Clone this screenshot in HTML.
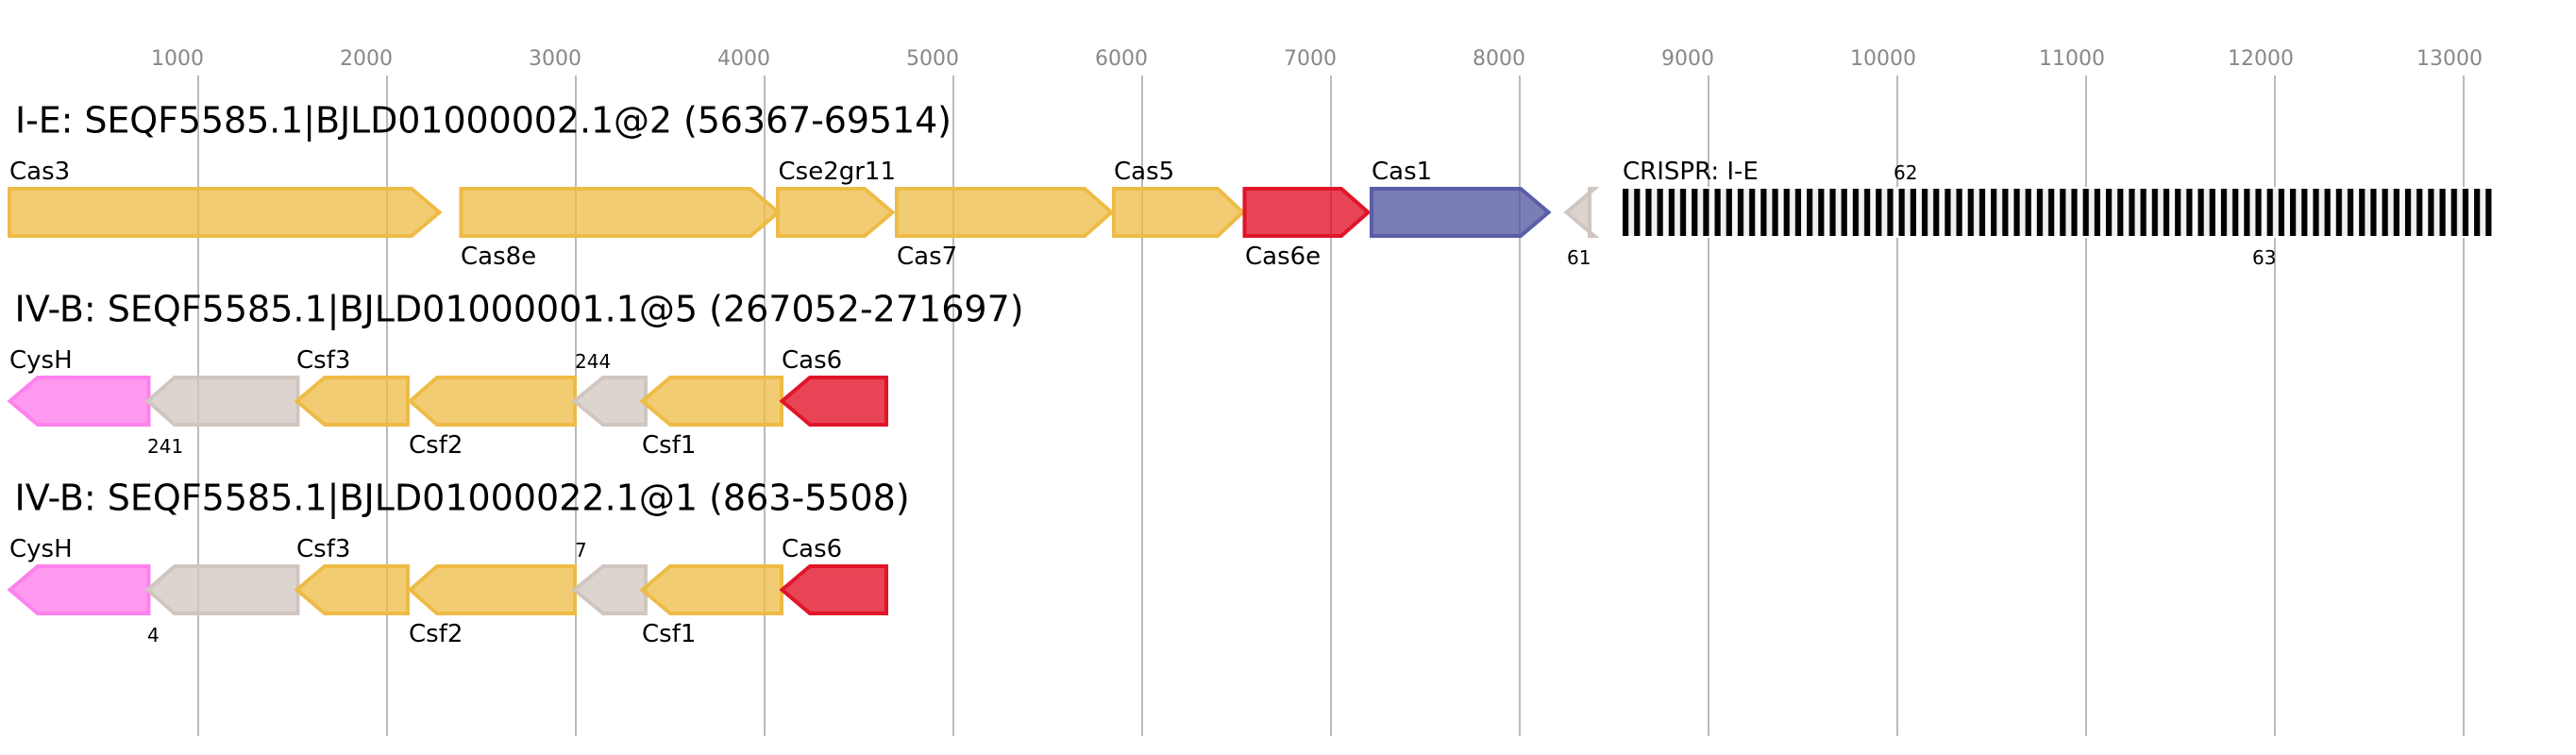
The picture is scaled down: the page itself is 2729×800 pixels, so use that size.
<!DOCTYPE html>
<html><head><meta charset="utf-8"><title>CRISPR-Cas loci</title>
<style>
html,body{margin:0;padding:0;background:#fff}
svg{display:block}
text{font-family:"DejaVu Sans","Liberation Sans",sans-serif;fill:#000}
.t{font-size:38px}.g{font-size:26px}.s{font-size:20px}.k{font-size:22px;fill:#888}
.gd{fill:rgba(238,187,68,.75);stroke:#EEBB46;stroke-width:4}
.rd{fill:rgba(223,7,28,.75);stroke:#E1152A;stroke-width:4}
.bl{fill:rgba(78,82,158,.75);stroke:#5A5DA8;stroke-width:4}
.pk{fill:rgba(255,119,233,.75);stroke:#FF80EE;stroke-width:4}
.gy{fill:rgba(208,198,191,.75);stroke:#D0C6BF;stroke-width:4}
line{stroke:#bbb;stroke-width:2}
</style></head><body>
<svg xmlns="http://www.w3.org/2000/svg" width="2729" height="800" viewBox="0 0 2729 800">
<defs><pattern id="cr" patternUnits="userSpaceOnUse" x="1719" y="200" width="24.38" height="50"><rect width="24.38" height="50" fill="#f0f0f0"/><rect x="12.19" width="12.19" height="50" fill="#f8f8f8"/><rect width="6.2" height="50" fill="#000"/><rect x="12.19" width="6.2" height="50" fill="#000"/></pattern></defs>
<g>
<line x1="210" y1="80" x2="210" y2="780"/><line x1="410" y1="80" x2="410" y2="780"/><line x1="610" y1="80" x2="610" y2="780"/><line x1="810" y1="80" x2="810" y2="780"/><line x1="1010" y1="80" x2="1010" y2="780"/><line x1="1210" y1="80" x2="1210" y2="780"/><line x1="1410" y1="80" x2="1410" y2="780"/><line x1="1610" y1="80" x2="1610" y2="780"/><line x1="1810" y1="80" x2="1810" y2="780"/><line x1="2010" y1="80" x2="2010" y2="780"/><line x1="2210" y1="80" x2="2210" y2="780"/><line x1="2410" y1="80" x2="2410" y2="780"/><line x1="2610" y1="80" x2="2610" y2="780"/>
</g>
<g class="ticks">
<text class="k" x="160" y="69">1000</text><text class="k" x="360" y="69">2000</text><text class="k" x="560" y="69">3000</text><text class="k" x="760" y="69">4000</text><text class="k" x="960" y="69">5000</text><text class="k" x="1160" y="69">6000</text><text class="k" x="1360" y="69">7000</text><text class="k" x="1560" y="69">8000</text><text class="k" x="1760" y="69">9000</text><text class="k" x="1960" y="69">10000</text><text class="k" x="2160" y="69">11000</text><text class="k" x="2360" y="69">12000</text><text class="k" x="2560" y="69">13000</text>
</g>
<text class="t" x="16" y="140.500" textLength="992" lengthAdjust="spacing">I-E: SEQF5585.1|BJLD01000002.1@2 (56367-69514)</text>
<text class="t" x="15.500" y="340.500">IV-B: SEQF5585.1|BJLD01000001.1@5 (267052-271697)</text>
<text class="t" x="15.500" y="540.500">IV-B: SEQF5585.1|BJLD01000022.1@1 (863-5508)</text>

<!-- Row 1 -->
<polygon class="gd" points="10,200 436,200 465.500,225 436,250 10,250"/>
<polygon class="gd" points="488.500,200 795,200 824.500,225 795,250 488.500,250"/>
<polygon class="gd" points="824,200 916,200 945.500,225 916,250 824,250"/>
<polygon class="gd" points="950,200 1149,200 1177.500,225 1149,250 950,250"/>
<polygon class="gd" points="1180,200 1290,200 1316.500,225 1290,250 1180,250"/>
<polygon class="rd" points="1318.500,200 1421,200 1449.500,225 1421,250 1318.500,250"/>
<polygon class="bl" points="1453,200 1611,200 1640.500,225 1611,250 1453,250"/>
<polygon class="gy" points="1684,200 1689,200 1659.500,225 1689,250 1684,250"/>
<rect x="1717" y="198" width="925" height="54" fill="#fff"/>
<rect x="1719" y="200" width="921" height="50" fill="url(#cr)"/>
<text class="g" x="10" y="190">Cas3</text>
<text class="g" x="488" y="280">Cas8e</text>
<text class="g" x="824.500" y="190">Cse2gr11</text>
<text class="g" x="950" y="280">Cas7</text>
<text class="g" x="1180" y="190">Cas5</text>
<text class="g" x="1319" y="280">Cas6e</text>
<text class="g" x="1453" y="190">Cas1</text>
<text class="s" x="1660" y="280">61</text>
<text class="g" x="1719" y="190">CRISPR: I-E</text>
<text class="s" x="2006" y="190">62</text>
<text class="s" x="2386" y="280">63</text>

<!-- Row 2 -->
<polygon class="pk" points="157.500,400 40,400 10.500,425 40,450 157.500,450"/>
<polygon class="gy" points="315.500,400 185,400 156.500,425 185,450 315.500,450"/>
<polygon class="gd" points="432,400 344,400 314.500,425 344,450 432,450"/>
<polygon class="gd" points="609,400 463,400 434.500,425 463,450 609,450"/>
<polygon class="gy" points="684,400 639,400 608.500,425 639,450 684,450"/>
<polygon class="gd" points="828,400 710,400 680.500,425 710,450 828,450"/>
<polygon class="rd" points="939,400 858,400 828.500,425 858,450 939,450"/>
<text class="g" x="10" y="390">CysH</text>
<text class="s" x="156" y="480">241</text>
<text class="g" x="314" y="390">Csf3</text>
<text class="g" x="433" y="480">Csf2</text>
<text class="s" x="609" y="390">244</text>
<text class="g" x="680" y="480">Csf1</text>
<text class="g" x="828" y="390">Cas6</text>

<!-- Row 3 -->
<polygon class="pk" points="157.500,600 40,600 10.500,625 40,650 157.500,650"/>
<polygon class="gy" points="315.500,600 185,600 156.500,625 185,650 315.500,650"/>
<polygon class="gd" points="432,600 344,600 314.500,625 344,650 432,650"/>
<polygon class="gd" points="609,600 463,600 434.500,625 463,650 609,650"/>
<polygon class="gy" points="684,600 639,600 608.500,625 639,650 684,650"/>
<polygon class="gd" points="828,600 710,600 680.500,625 710,650 828,650"/>
<polygon class="rd" points="939,600 858,600 828.500,625 858,650 939,650"/>
<text class="g" x="10" y="590">CysH</text>
<text class="s" x="156" y="680">4</text>
<text class="g" x="314" y="590">Csf3</text>
<text class="g" x="433" y="680">Csf2</text>
<text class="s" x="609" y="590">7</text>
<text class="g" x="680" y="680">Csf1</text>
<text class="g" x="828" y="590">Cas6</text>
</svg>
</body></html>
